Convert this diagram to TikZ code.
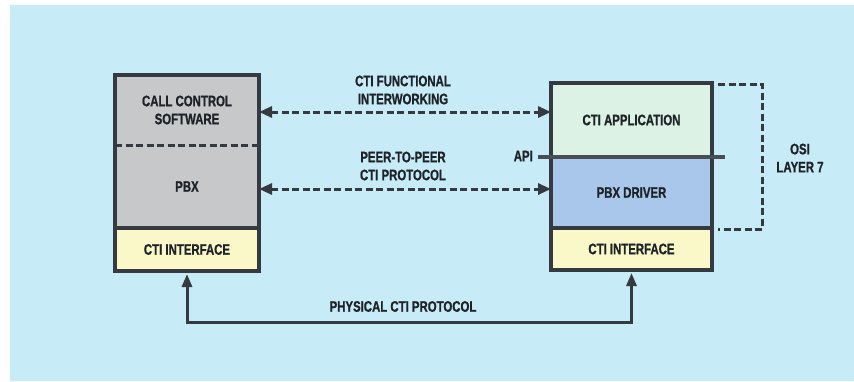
\documentclass[tikz,border=0pt]{standalone}
\usepackage{fontspec}
\setmainfont{Liberation Sans}[UprightFont={* Bold}, BoldFont={* Bold}, FakeStretch=0.75, FakeBold=0.8]
\usetikzlibrary{arrows.meta}
\definecolor{bg}{HTML}{C8EBF8}
\definecolor{grayfill}{HTML}{C7C8C9}
\definecolor{yellowfill}{HTML}{FAF7C9}
\definecolor{greenfill}{HTML}{DCF2E4}
\definecolor{bluefill}{HTML}{A9C7EA}
\definecolor{linec}{HTML}{343A40}
\definecolor{textc}{HTML}{1E2328}
\tikzset{
  lbl/.style={font=\fontsize{15.2}{18}\selectfont, text=textc, align=center, inner sep=0pt},
  sect/.style={lbl, minimum width=#1, outer sep=0pt},
  border/.style={draw=linec, line width=3.3pt},
  dasharrow/.style={draw=linec, line width=3pt, dash pattern=on 7pt off 3.5pt, {Triangle[length=13pt,width=11pt]}-{Triangle[length=13pt,width=11pt]}},
  solidarrow/.style={draw=linec, line width=3pt, {Triangle[length=13pt,width=10pt]}-{Triangle[length=13pt,width=10pt]}},
  bracket/.style={draw=linec, line width=3pt, dash pattern=on 7pt off 3.5pt},
}
\begin{document}
\begin{tikzpicture}[x=1pt,y=-1pt]
\useasboundingbox (0,0) rectangle (854,381);
\fill[white] (0,0) rectangle (854,381);
\fill[bg] (10,5) rectangle (854,381);
% left stack
\node[sect=144pt, minimum height=70pt, fill=grayfill] (lcall) at (187,110) {CALL CONTROL\\SOFTWARE};
\node[sect=144pt, minimum height=83pt, fill=grayfill] (lpbx) at (187,186.5) {PBX};
\node[sect=144pt, minimum height=43pt, fill=yellowfill] (lif) at (187,249.5) {CTI INTERFACE};
\draw[bracket] (lcall.south west) -- (lcall.south east);
\draw[border] (lpbx.south west) -- (lpbx.south east);
\draw[border] (lcall.north west) rectangle (lif.south east);
% right stack
\node[sect=161pt, minimum height=74pt, fill=greenfill] (rapp) at (631.5,120) {CTI APPLICATION};
\node[sect=161pt, minimum height=71pt, fill=bluefill] (rdrv) at (631.5,192.5) {PBX DRIVER};
\node[sect=161pt, minimum height=42pt, fill=yellowfill] (rif) at (631.5,249) {CTI INTERFACE};
\draw[border] (rdrv.south west) -- (rdrv.south east);
\draw[border] (rapp.north west) rectangle (rif.south east);
% API bar
\coordinate (apil) at (538,157);
\coordinate (apir) at (725,157);
\draw[draw=linec!90!white, line width=4.5pt] (apil) -- (apir);
\node[lbl, anchor=east] (api) at (533,156) {API};
% OSI bracket
\coordinate (b1) at (718,84);
\coordinate (b2) at (762,84);
\coordinate (b3) at (762,229);
\coordinate (b4) at (718,229);
\draw[bracket] (b1) -- (b2) -- (b3) -- (b4);
\node[lbl] (osi) at (800,158) {OSI\\LAYER 7};
% horizontal arrows
\draw[dasharrow] (lcall.east |- 0,112) -- (rapp.west |- 0,112);
\draw[dasharrow] (lpbx.east |- 0,189) -- (rdrv.west |- 0,189);
\node[lbl] (func) at (403,90) {CTI FUNCTIONAL\\INTERWORKING};
\node[lbl] (peer) at (403,166) {PEER-TO-PEER\\CTI PROTOCOL};
% physical
\draw[solidarrow] ([yshift=-3pt]lif.south) -- (lif.south |- 0,322) -- (rif.south |- 0,322) -- ([yshift=-3pt]rif.south);
\node[lbl] (phys) at (403,306.5) {PHYSICAL CTI PROTOCOL};
\end{tikzpicture}
\end{document}
